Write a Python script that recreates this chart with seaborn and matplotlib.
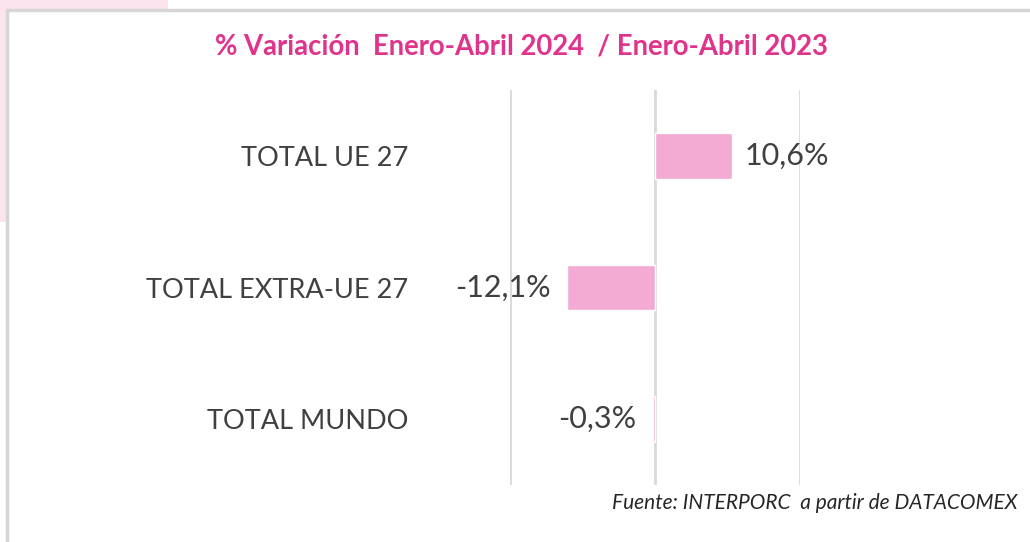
import matplotlib
matplotlib.use("Agg")
import matplotlib.pyplot as plt
import seaborn as sns
import pandas as pd
from matplotlib.patches import Rectangle

categories = ["TOTAL UE 27", "TOTAL EXTRA-UE 27", "TOTAL MUNDO"]
values = [10.6, -12.1, -0.3]
value_labels = ["10,6%", "-12,1%", "-0,3%"]
title_text = "% Variación  Enero-Abril 2024  / Enero-Abril 2023"
source_text = "Fuente: INTERPORC  a partir de DATACOMEX"

sns.set_theme(style="white")
plt.rcParams["font.family"] = ["Lato", "DejaVu Sans"]

BAR = "#F3AAD3"
TEXT = "#404040"
PINK = "#E0348C"
GRID = "#D9D9D9"

W, H = 1030, 542
fig = plt.figure(figsize=(W / 100, H / 100), dpi=100)
fig.patch.set_facecolor("white")

# decorative pink corner and grey frame
fig.add_artist(Rectangle((0, 1 - 11 / H), 168 / W, 11 / H, transform=fig.transFigure,
                         facecolor="#FCE4EE", edgecolor="none", zorder=0))
fig.add_artist(Rectangle((0, 1 - 222 / H), 8 / W, 222 / H, transform=fig.transFigure,
                         facecolor="#FCE4EE", edgecolor="none", zorder=0))
fig.add_artist(plt.Line2D([7 / W, 1], [1 - 10 / H, 1 - 10 / H], transform=fig.transFigure,
                          color="#D6D6D6", lw=2.5, zorder=1))
fig.add_artist(plt.Line2D([7 / W, 7 / W], [0, 1 - 10 / H], transform=fig.transFigure,
                          color="#D6D6D6", lw=2.5, zorder=1))

left, right, top, bottom = 510, 800, 90, 485
ax = fig.add_axes([left / W, 1 - bottom / H, (right - left) / W, (bottom - top) / H])
ax.set_facecolor("none")

df = pd.DataFrame({"cat": categories, "val": values})
sns.barplot(data=df, x="val", y="cat", orient="h", color=BAR, width=0.345,
            saturation=1, ax=ax, zorder=3)

ax.set_xlim(-20, 20)
ax.set_ylim(2.5, -0.5)
ax.set_xticks([-20, 0, 20])
ax.xaxis.grid(True, color=GRID, lw=2)
ax.set_axisbelow(True)
ax.tick_params(axis="x", length=0, labelbottom=False)
ax.tick_params(axis="y", length=0, pad=73, labelsize=19.5, labelcolor=TEXT)
ax.set_xlabel("")
ax.set_ylabel("")
for s in ax.spines.values():
    s.set_visible(False)

for i, (v, lab) in enumerate(zip(values, value_labels)):
    if v >= 0:
        ax.annotate(lab, (v, i), xytext=(9, 0), textcoords="offset points",
                    ha="left", va="center", fontsize=22, color=TEXT)
    else:
        ax.annotate(lab, (v, i), xytext=(-12, 0), textcoords="offset points",
                    ha="right", va="center", fontsize=22, color=TEXT)

fig.text(521 / W, 1 - 47 / H, title_text, ha="center", va="center",
         fontsize=19.8, fontweight="bold", color=PINK)
fig.text(1018 / W, 1 - 503 / H, source_text, ha="right", va="center",
         fontsize=15, style="italic", color="#262626")

fig.savefig("out.png", dpi=100, facecolor="white")
